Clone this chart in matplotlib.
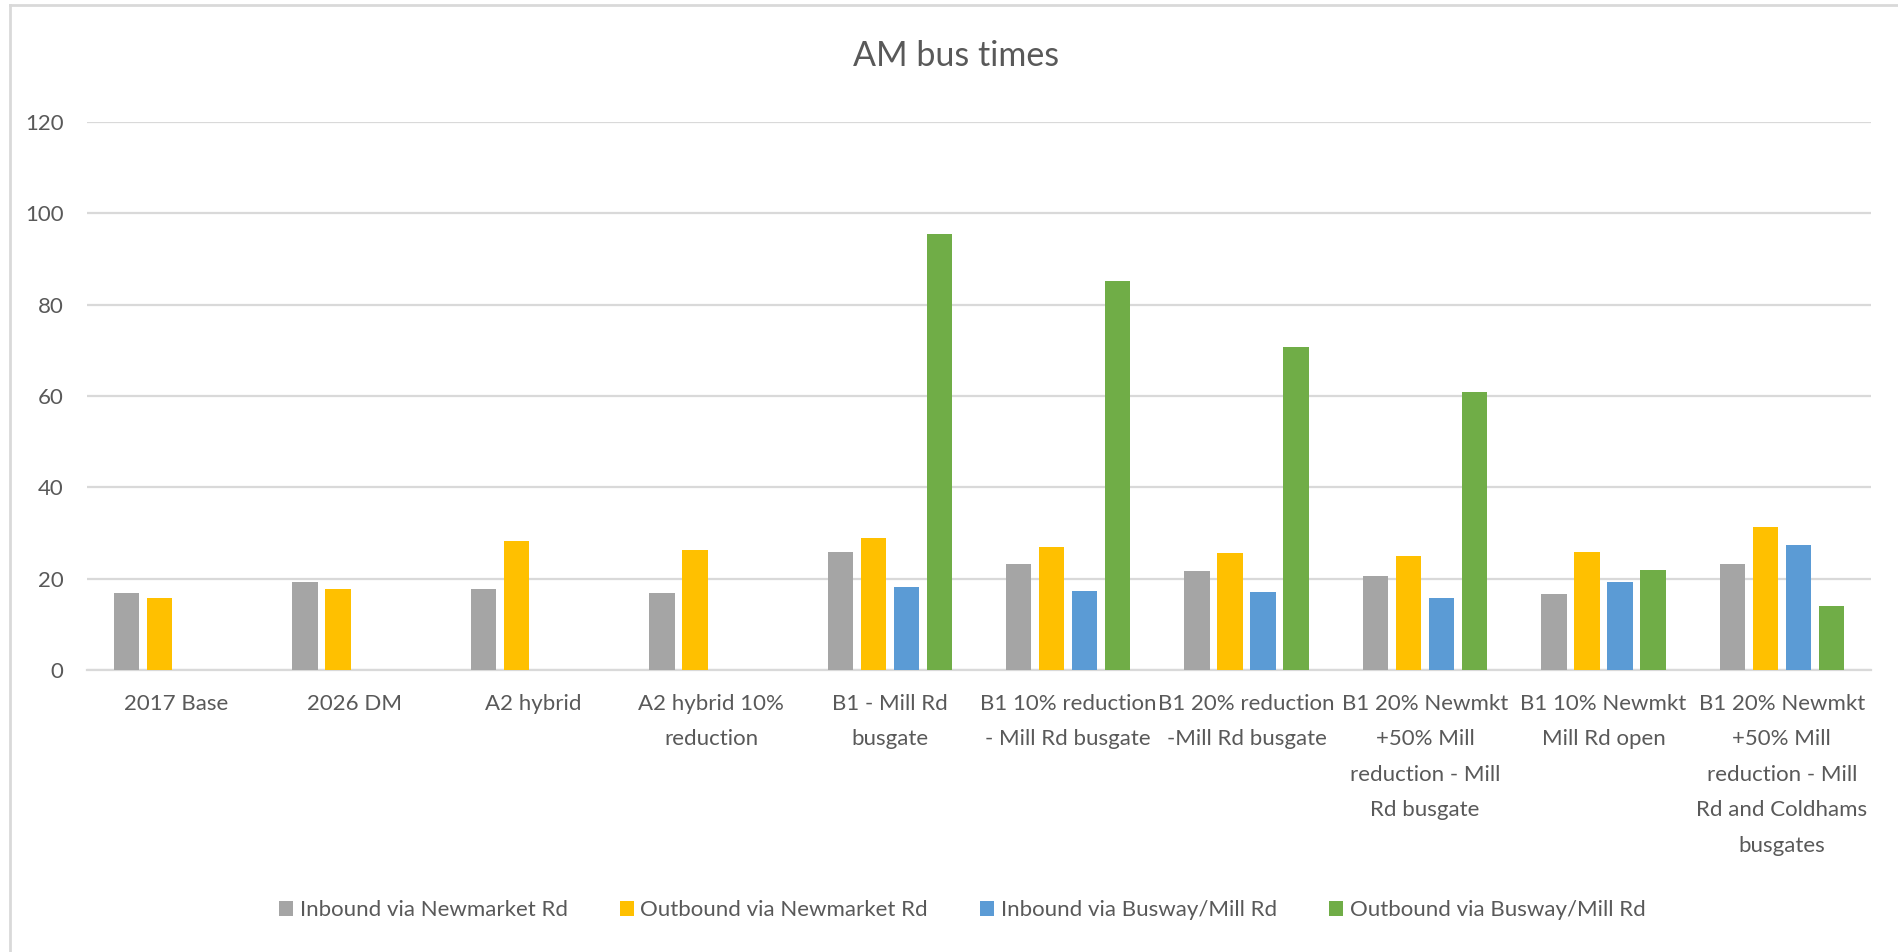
import matplotlib.pyplot as plt
import numpy as np
from matplotlib.lines import Line2D
from matplotlib.patches import Patch

plt.rcParams['font.family'] = ['Lato', 'DejaVu Sans']

scenarios = [
    "2017 Base",
    "2026 DM",
    "A2 hybrid",
    "A2 hybrid 10%\nreduction",
    "B1 - Mill Rd\nbusgate",
    "B1 10% reduction\n- Mill Rd busgate",
    "B1 20% reduction\n-Mill Rd busgate",
    "B1 20% Newmkt\n+50% Mill\nreduction - Mill\nRd busgate",
    "B1 10% Newmkt\nMill Rd open",
    "B1 20% Newmkt\n+50% Mill\nreduction - Mill\nRd and Coldhams\nbusgates",
]

series_names = [
    "Inbound via Newmarket Rd",
    "Outbound via Newmarket Rd",
    "Inbound via Busway/Mill Rd",
    "Outbound via Busway/Mill Rd",
]

inbound_newmarket = [16.8, 19.3, 17.7, 16.8, 25.8, 23.2, 21.7, 20.5, 16.6, 23.3]
outbound_newmarket = [15.8, 17.7, 28.2, 26.3, 28.8, 27.0, 25.7, 25.0, 25.8, 31.3]
inbound_busway = [np.nan, np.nan, np.nan, np.nan, 18.1, 17.2, 17.0, 15.7, 19.3, 27.4]
outbound_busway = [np.nan, np.nan, np.nan, np.nan, 95.4, 85.2, 70.7, 60.9, 22.0, 14.0]

colors = ["#A5A5A5", "#FFC000", "#5B9BD5", "#70AD47"]
text_color = "#595959"
grid_color = "#D9D9D9"

fig = plt.figure(figsize=(18.98, 9.52), dpi=100)
ax = fig.add_axes([87 / 1898, 1 - 670 / 952, (1871 - 87) / 1898, (670 - 122) / 952])

x = np.arange(len(scenarios))
pitch = 0.185
width = 0.143
all_series = [inbound_newmarket, outbound_newmarket, inbound_busway, outbound_busway]
for i, (vals, col) in enumerate(zip(all_series, colors)):
    ax.bar(x + (i - 1.5) * pitch, vals, width=width, color=col, zorder=3)

ax.set_xlim(-0.5, len(scenarios) - 0.5)
ax.set_ylim(0, 120)
ax.set_yticks(range(0, 121, 20))
ax.yaxis.grid(True, color=grid_color, linewidth=1.6, zorder=0)
ax.set_axisbelow(True)
for s in ["top", "right", "left"]:
    ax.spines[s].set_visible(False)
ax.spines["bottom"].set_color(grid_color)
ax.spines["bottom"].set_linewidth(1.6)

ax.set_xticks(x)
ax.set_xticklabels(scenarios, fontsize=16, color=text_color, linespacing=1.97,
                   va="top", ha="center")
ax.tick_params(axis="x", length=0, pad=17)
ax.tick_params(axis="y", length=0, pad=17, labelsize=16, labelcolor=text_color)

fig.text(956 / 1898, 1 - 56 / 952, "AM bus times", fontsize=24.5, color=text_color,
         ha="center", va="center")

handles = [Patch(facecolor=c, edgecolor="none") for c in colors]
fig.legend(handles, series_names, loc="center", bbox_to_anchor=(0.507, 1 - 910 / 952),
           ncol=4, frameon=False, fontsize=16, labelcolor=text_color,
           handlelength=0.63, handleheight=0.66, handletextpad=0.3,
           columnspacing=2.35)

# chart frame (top and left edges)
fig.add_artist(Line2D([10 / 1898, 1], [1 - 5 / 952, 1 - 5 / 952], color=grid_color,
                      linewidth=2, transform=fig.transFigure))
fig.add_artist(Line2D([10 / 1898, 10 / 1898], [0, 1 - 5 / 952], color=grid_color,
                      linewidth=2, transform=fig.transFigure))

fig.savefig("out.png", dpi=100)
